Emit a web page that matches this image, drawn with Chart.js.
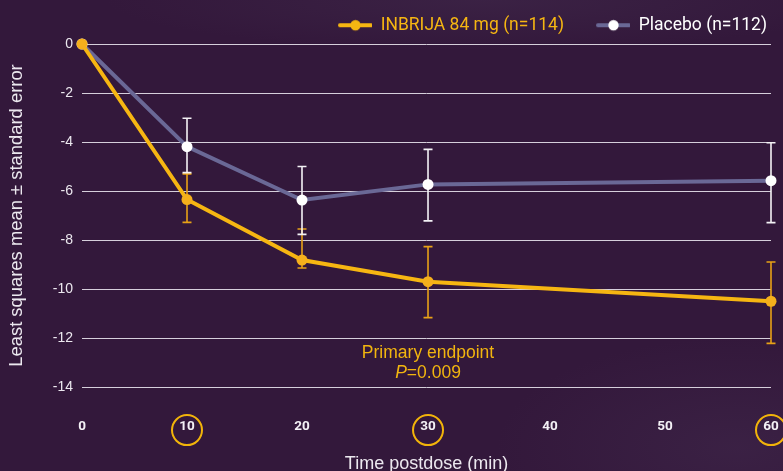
<!DOCTYPE html>
<html>
<head>
<meta charset="utf-8">
<title>Least squares mean change over time</title>
<script src="https://cdn.jsdelivr.net/npm/chart.js@4/dist/chart.umd.min.js"></script>
<style>
  html, body { margin: 0; padding: 0; }
  body {
    width: 783px; height: 471px; overflow: hidden;
    background:
      radial-gradient(ellipse 240px 110px at 94% 95%, rgba(70, 46, 82, 0.4), rgba(70, 46, 82, 0) 100%),
      radial-gradient(ellipse 380px 50px at 62% 0%, rgba(70, 48, 82, 0.4), rgba(70, 48, 82, 0) 100%),
      #33183b;
  }
  #wrap { position: relative; width: 783px; height: 471px; }
  canvas { display: block; }
</style>
</head>
<body>
<div id="wrap"><canvas id="chart" width="783" height="471"></canvas></div>
<script>
// ---- data ----
const times = [0, 10, 20, 30, 60];                       // minutes postdose
const inbrijaMean  = [0, -6.35, -8.82, -9.70, -10.50];
const inbrijaUpper = [null, -5.30, -7.55, -8.27, -8.90];
const inbrijaLower = [null, -7.28, -9.14, -11.17, -12.22];
const placeboMean  = [0, -4.19, -6.37, -5.73, -5.58];
const placeboUpper = [null, -3.03, -5.00, -4.30, -4.03];
const placeboLower = [null, -5.25, -7.77, -7.22, -7.29];
const seriesNames = ['INBRIJA 84 mg (n=114)', 'Placebo (n=112)'];
const highlightedTimes = [10, 30, 60];
const endpointLabel = 'Primary endpoint';
const pSymbol = 'P';
const pValueText = '=0.009';
const xTitle = 'Time postdose (min)';
const yTitle = 'Least squares mean \u00b1 standard error';

// ---- look ----
const GOLD = '#f6b612';
const GOLD_BAR = '#e8a117';
const SLATE = '#6a6896';
const TEXT = '#ece8ef';

// the time axis is drawn with uneven spacing between its ticks
const xAxisStops = [[0, 0], [10, 0.1524], [20, 0.3193], [30, 0.5022], [40, 0.6792], [50, 0.8462], [60, 1]];

function hasFont(name) {
  const c = document.createElement('canvas').getContext('2d');
  const s = 'INBRIJA 84 mg (n=114) Placebo';
  let differs = false;
  for (const base of ['monospace', 'serif']) {
    c.font = '40px ' + base;
    const a = c.measureText(s).width;
    c.font = '40px "' + name + '", ' + base;
    const b = c.measureText(s).width;
    if (Math.abs(a - b) > 0.5) differs = true;
  }
  return differs;
}
const NARROW_OK = hasFont('Liberation Sans Narrow');
const SANS = "'Liberation Sans', Arial, Helvetica, sans-serif";
const legendFont = NARROW_OK ? { family: "'Liberation Sans Narrow'", size: 21 } : { family: 'Roboto', size: 17.5 };
const xTickFont = NARROW_OK ? { family: "'Liberation Sans Narrow'", size: 15, weight: 'bold' } : { family: 'Roboto', size: 13.5, weight: 'bold' };

// linear scale with piecewise-linear placement of values
class StretchedLinearScale extends Chart.LinearScale {
  _toDecimal(v) {
    const st = xAxisStops;
    for (let i = 1; i < st.length; i++) {
      const [v0, f0] = st[i - 1], [v1, f1] = st[i];
      if (v <= v1 || i === st.length - 1) return f0 + (v - v0) / (v1 - v0) * (f1 - f0);
    }
    return 0;
  }
  getPixelForValue(value) {
    if (value === null || value === undefined || isNaN(value)) return NaN;
    return this.getPixelForDecimal(this._toDecimal(value));
  }
  getValueForPixel(pixel) {
    const d = this.getDecimalForPixel(pixel);
    const st = xAxisStops;
    for (let i = 1; i < st.length; i++) {
      const [v0, f0] = st[i - 1], [v1, f1] = st[i];
      if (d <= f1 || i === st.length - 1) return v0 + (d - f0) / (f1 - f0) * (v1 - v0);
    }
    return 0;
  }
}
StretchedLinearScale.id = 'stretchedLinear';
StretchedLinearScale.defaults = Chart.LinearScale.defaults;
Chart.register(StretchedLinearScale);

// legend icons: a short line with a dot on it
function legendIcon(lineColor, dotColor) {
  const c = document.createElement('canvas');
  c.width = 56; c.height = 14;
  const g = c.getContext('2d');
  g.strokeStyle = lineColor; g.lineWidth = 4; g.lineCap = 'round';
  g.beginPath(); g.moveTo(24, 7); g.lineTo(55, 7); g.stroke();
  g.fillStyle = dotColor;
  g.beginPath(); g.arc(39.5, 7, 5.2, 0, Math.PI * 2); g.fill();
  return c;
}
const legendIcons = [legendIcon(GOLD, GOLD), legendIcon(SLATE, '#ffffff')];
const legendTextColors = [GOLD, '#ffffff'];

const toPoints = (ys) => times.map((t, i) => ({ x: t, y: ys[i] }));

// vertical mean ± SE bars with caps, drawn beneath lines and markers
const errorBarPlugin = {
  id: 'errorBars',
  beforeDatasetsDraw(chart) {
    const { ctx, scales: { x, y } } = chart;
    ctx.save();
    chart.data.datasets.forEach((ds) => {
      const eb = ds.errorBars;
      if (!eb) return;
      ctx.strokeStyle = eb.color;
      ctx.lineWidth = 1.6;
      for (let i = 0; i < times.length; i++) {
        if (eb.upper[i] == null || eb.lower[i] == null) continue;
        const px = x.getPixelForValue(times[i]);
        const top = y.getPixelForValue(eb.upper[i]);
        const bot = y.getPixelForValue(eb.lower[i]);
        ctx.beginPath();
        ctx.moveTo(px, top); ctx.lineTo(px, bot);
        ctx.moveTo(px - 4.5, top); ctx.lineTo(px + 4.5, top);
        ctx.moveTo(px - 4.5, bot); ctx.lineTo(px + 4.5, bot);
        ctx.stroke();
      }
    });
    ctx.restore();
  }
};

// rings around selected time tick labels
const tickRingPlugin = {
  id: 'tickRings',
  afterDraw(chart, args, opts) {
    const { ctx, scales: { x } } = chart;
    const xo = x.options.ticks;
    const lh = Chart.helpers.toFont(xo.font).lineHeight;
    const cy = x.top + xo.padding + lh / 2 + opts.dy;
    ctx.save();
    ctx.strokeStyle = opts.color;
    ctx.lineWidth = opts.width;
    highlightedTimes.forEach((t) => {
      const cx = x.getPixelForValue(t);
      ctx.beginPath();
      ctx.arc(cx, cy, opts.radius, 0, Math.PI * 2);
      ctx.stroke();
    });
    ctx.restore();
  }
};

// endpoint note under the 30-minute point
const endpointNotePlugin = {
  id: 'endpointNote',
  afterDraw(chart, args, opts) {
    const { ctx, scales: { x, y } } = chart;
    const cx = x.getPixelForValue(opts.at);
    ctx.save();
    ctx.fillStyle = opts.color;
    ctx.textBaseline = 'middle';
    ctx.textAlign = 'center';
    ctx.font = opts.size + 'px ' + SANS;
    ctx.fillText(endpointLabel, cx, y.getPixelForValue(opts.lines[0]));
    const yy = y.getPixelForValue(opts.lines[1]);
    ctx.textAlign = 'left';
    ctx.font = 'italic ' + opts.size + 'px ' + SANS;
    const w1 = ctx.measureText(pSymbol).width;
    ctx.font = opts.size + 'px ' + SANS;
    const w2 = ctx.measureText(pValueText).width;
    const x0 = cx - (w1 + w2) / 2;
    ctx.font = 'italic ' + opts.size + 'px ' + SANS;
    ctx.fillText(pSymbol, x0, yy);
    ctx.font = opts.size + 'px ' + SANS;
    ctx.fillText(pValueText, x0 + w1, yy);
    ctx.restore();
  }
};

new Chart(document.getElementById('chart'), {
  type: 'line',
  data: {
    datasets: [
      {
        label: seriesNames[0],
        data: toPoints(inbrijaMean),
        borderColor: GOLD,
        backgroundColor: GOLD,
        borderWidth: 4,
        pointRadius: 5.5,
        pointBackgroundColor: '#f5b01c',
        pointBorderWidth: 0,
        tension: 0,
        clip: false,
        errorBars: { upper: inbrijaUpper, lower: inbrijaLower, color: GOLD_BAR }
      },
      {
        label: seriesNames[1],
        data: toPoints(placeboMean),
        borderColor: SLATE,
        backgroundColor: '#ffffff',
        borderWidth: 4,
        pointRadius: 5.5,
        pointBackgroundColor: '#ffffff',
        pointBorderWidth: 0,
        tension: 0,
        clip: false,
        errorBars: { upper: placeboUpper, lower: placeboLower, color: '#f4f2f6' }
      }
    ]
  },
  options: {
    responsive: false,
    animation: false,
    devicePixelRatio: 1,
    layout: { padding: { top: 1, right: 6, bottom: 0, left: 0 } },
    plugins: {
      legend: {
        position: 'top',
        align: 'end',
        labels: {
          usePointStyle: true,
          pointStyleWidth: 56,
          padding: 10,
          font: legendFont,
          generateLabels: (chart) => chart.data.datasets.map((ds, i) => ({
            text: ds.label,
            fontColor: legendTextColors[i],
            pointStyle: legendIcons[i],
            fillStyle: 'rgba(0,0,0,0)',
            strokeStyle: 'rgba(0,0,0,0)',
            lineWidth: 0,
            hidden: false,
            datasetIndex: i
          }))
        }
      },
      tooltip: { enabled: false },
      tickRings: { color: '#f2b40a', width: 2, radius: 15, dy: 3 },
      endpointNote: { at: 30, lines: [-12.6, -13.45], color: '#f2b50f', size: 17.5 }
    },
    scales: {
      x: {
        type: 'stretchedLinear',
        min: 0,
        max: 60,
        grid: { display: false, drawTicks: false },
        border: { display: false },
        ticks: { stepSize: 10, padding: 32, color: '#f4f1f6', font: xTickFont, maxRotation: 0 },
        title: { display: true, text: xTitle, color: TEXT, font: { family: SANS, size: 18 }, padding: { top: 0, bottom: -4 } },
        afterFit(s) { s.height = 84; s.paddingRight = 12; }
      },
      y: {
        min: -14,
        max: 0,
        grid: { color: '#d6cfdb', lineWidth: 1, drawTicks: false },
        border: { display: false },
        ticks: { stepSize: 2, padding: 9, color: TEXT, font: { family: SANS, size: 14 } },
        title: { display: true, text: yTitle, color: TEXT, font: { family: SANS, size: 18.4 }, padding: { top: 6, bottom: 0 } },
        afterFit(s) { s.width = 82; s.paddingTop = 44; }
      }
    }
  },
  plugins: [errorBarPlugin, tickRingPlugin, endpointNotePlugin]
});
</script>
</body>
</html>
